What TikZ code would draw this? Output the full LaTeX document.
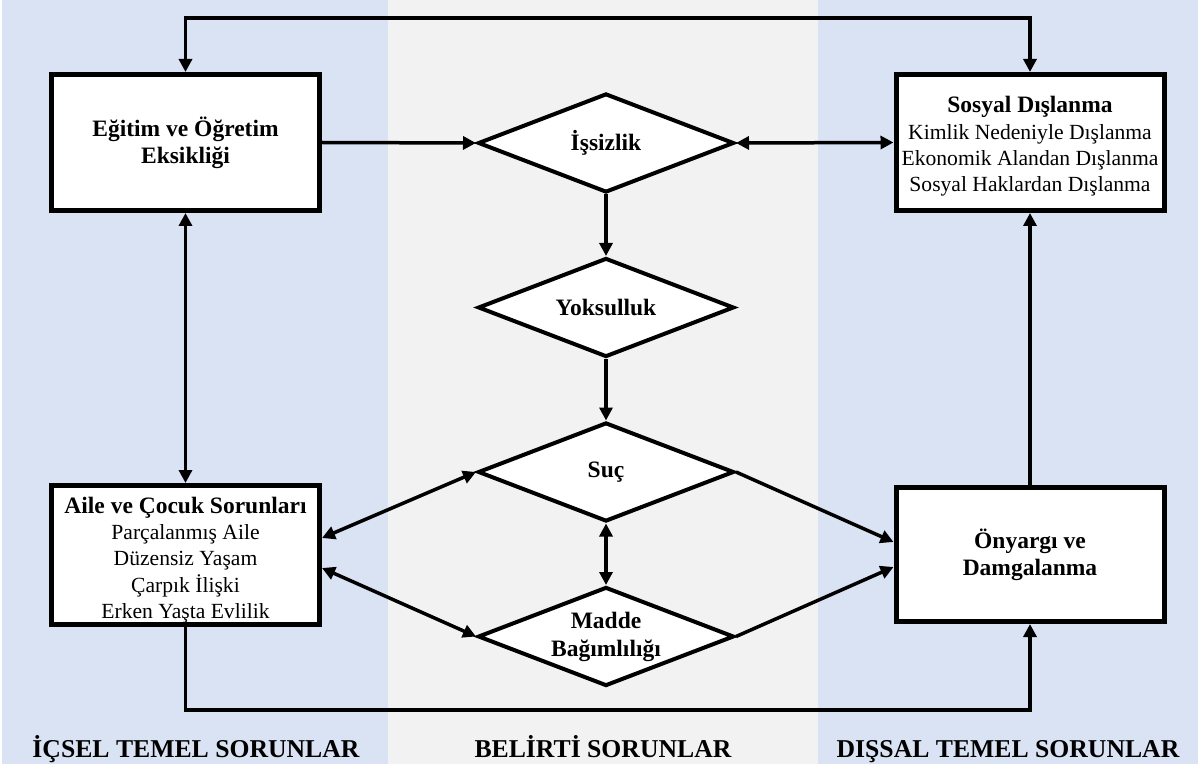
\documentclass[tikz,border=0pt]{standalone}
\usepackage{fontspec}
\setmainfont{Liberation Serif}
\usetikzlibrary{shapes.geometric,arrows.meta,calc}
\definecolor{panelblue}{HTML}{DAE3F3}
\definecolor{panelgray}{HTML}{F2F2F2}
\begin{document}
\begin{tikzpicture}[x=1pt,y=-1pt,
 box/.style={draw,line width=5pt,fill=white,minimum width=268pt,align=center,inner sep=0pt},
 boldtxt/.style={font=\bfseries\fontsize{23.5}{27}\selectfont},
 plaintxt/.style={font=\fontsize{21.6}{26.3}\selectfont},
 dia/.style={draw,diamond,aspect=2.6,line width=4pt,fill=white,minimum width=256pt,minimum height=99pt,inner sep=0pt,align=center,font=\bfseries\fontsize{23.5}{28}\selectfont},
 arr/.style={line width=3.5pt,-{Triangle[length=13pt,width=13pt]}},
 darr/.style={line width=3.5pt,{Triangle[length=13pt,width=13pt]}-{Triangle[length=13pt,width=13pt]}},
 lbl/.style={font=\bfseries\fontsize{25.7}{30}\selectfont,anchor=base}]
\useasboundingbox (0,0) rectangle (1198,767);
\fill[white] (0,0) rectangle (1198,767);
\fill[panelblue] (2,0) rectangle (388,764);
\fill[panelgray] (388,0) rectangle (818,764);
\fill[panelblue] (818,0) rectangle (1198,764);

\node[box,boldtxt,minimum height=136pt] (egitim) at (185.5,142.5) {Eğitim ve Öğretim\\Eksikliği};
\node[box,minimum height=136pt,label={[plaintxt,align=center,yshift=-4pt]center:{{\bfseries\fontsize{23.5}{26.3}\selectfont Sosyal Dışlanma}\\Kimlik Nedeniyle Dışlanma\\Ekonomik Alandan Dışlanma\\Sosyal Haklardan Dışlanma}}] (sosyal) at (1030,142.5) {};
\node[box,minimum height=139pt,label={[plaintxt,align=center,yshift=-5pt]center:{{\bfseries\fontsize{23.5}{26.3}\selectfont Aile ve Çocuk Sorunları}\\Parçalanmış Aile\\Düzensiz Yaşam\\Çarpık İlişki\\Erken Yaşta Evlilik}}] (aile) at (185.5,555) {};
\node[box,boldtxt,minimum height=134pt] (ony) at (1030,554.5) {Önyargı ve\\Damgalanma};

\node[dia] (isz) at (606,143) {İşsizlik};
\node[dia] (yok) at (606,307.5) {Yoksulluk};
\node[dia] (suc) at (606,472) {Suç};
\node[dia] (madde) at (606,636.5) {Madde\\Bağımlılığı};

\node[lbl] (l1) at (196,757) {İÇSEL TEMEL SORUNLAR};
\node[lbl] (l2) at (603,757) {BELİRTİ SORUNLAR};
\node[lbl] (l3) at (1008,757) {DIŞSAL TEMEL SORUNLAR};

\coordinate (ytop) at (0,18);
\coordinate (ybot) at (0,710);

\draw[darr] (egitim.north) -- (egitim.north |- ytop) -| (sosyal.north);
\draw[arr] (egitim.east) -- (isz.west);
\draw[darr] (isz.east) -- (sosyal.west);
\draw[arr] (isz.south) -- (yok.north);
\draw[arr] (yok.south) -- (suc.north);
\draw[darr] (egitim.south) -- (aile.north);
\draw[darr] ([yshift=17pt]aile.east) -- (suc.west);
\draw[darr] ([yshift=-13pt]aile.east) -- (madde.west);
\draw[darr] (suc.south) -- (madde.north);
\draw[arr] (suc.east) -- ([yshift=12.5pt]ony.west);
\draw[arr] (madde.east) -- ([yshift=-12.5pt]ony.west);
\draw[arr] (ony.north) -- (sosyal.south);
\draw[arr] (aile.south) -- (aile.south |- ybot) -| (ony.south);
\end{tikzpicture}
\end{document}
